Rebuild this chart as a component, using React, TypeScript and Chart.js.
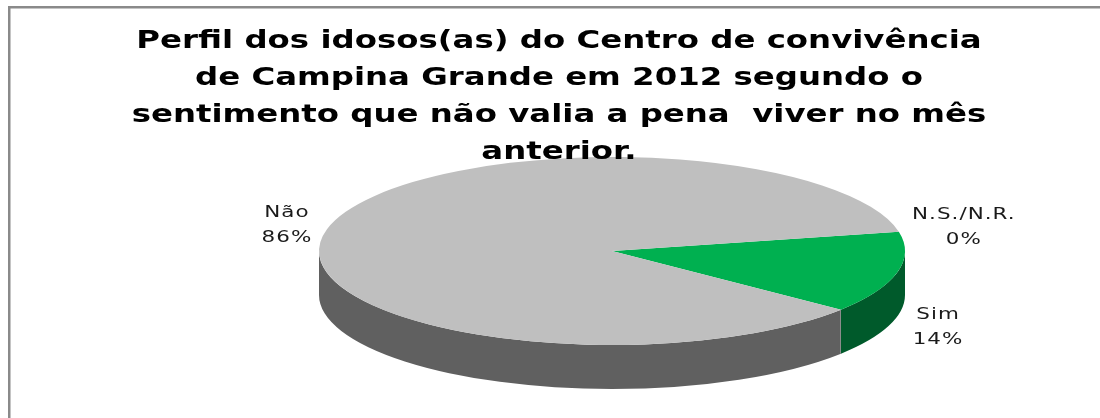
import React, { useEffect, useRef } from "react";
import { Chart, registerables } from "chart.js";

Chart.register(...registerables);

const categories = ["Sim", "Não", "N.S./N.R."];
const shares = [14, 86, 0];
const topColours = ["#00B050", "#BFBFBF", "#7F7F7F"];
const wallColours = ["#005A2B", "#606060", "#404040"];
const chartTitle = [
  "Perfil dos idosos(as) do Centro de convivência",
  "de Campina Grande em 2012 segundo o",
  "sentimento que não valia a pena  viver no mês",
  "anterior.",
];

// Projection of the flat pie onto a tilted disc.
const DISC_CENTRE = { x: 612, y: 251 };
const DISC_RADIUS = 293;
const DISC_SQUASH = 94 / 293;
const DISC_DEPTH = 44;

// Label offsets from the rim point of each slice.
const labelOffsets = [
  { dx: 41, dy: 54.5 },
  { dx: -40, dy: -4 },
  { dx: 65, dy: -5 },
];

const tiltTo = (ctx: CanvasRenderingContext2D, arc: any, drop: number) => {
  ctx.translate(DISC_CENTRE.x, DISC_CENTRE.y + drop);
  ctx.scale(1, DISC_SQUASH);
  ctx.translate(-arc.x, -arc.y);
};

const framePlugin = {
  id: "frame",
  beforeDraw(chart: Chart) {
    const { ctx, width, height } = chart;
    ctx.save();
    ctx.fillStyle = "#ffffff";
    ctx.fillRect(0, 0, width, height);
    ctx.strokeStyle = "#8A8A8A";
    ctx.lineWidth = 2.5;
    ctx.beginPath();
    ctx.moveTo(9.25, height);
    ctx.lineTo(9.25, 7.25);
    ctx.lineTo(width, 7.25);
    ctx.stroke();
    ctx.restore();
  },
};

const discPlugin = {
  id: "disc",
  beforeDatasetsDraw(chart: Chart) {
    const { ctx } = chart;
    const arcs = chart.getDatasetMeta(0).data as any[];
    // Side wall: the part of each slice's rim on the front half, swept downward.
    arcs.forEach((arc, i) => {
      const wrap = (a: number) => {
        let v = a % (2 * Math.PI);
        if (v < -Math.PI) v += 2 * Math.PI;
        return v;
      };
      const from = wrap(arc.startAngle);
      const sweep = arc.endAngle - arc.startAngle;
      const start = Math.max(from, 0);
      const end = Math.min(from + sweep, Math.PI);
      if (sweep <= 0 || end <= start) return;
      ctx.save();
      ctx.fillStyle = wallColours[i];
      ctx.beginPath();
      ctx.save();
      tiltTo(ctx, arc, 0);
      ctx.arc(arc.x, arc.y, arc.outerRadius, start, end);
      ctx.restore();
      ctx.save();
      tiltTo(ctx, arc, DISC_DEPTH);
      ctx.arc(arc.x, arc.y, arc.outerRadius, end, start, true);
      ctx.restore();
      ctx.closePath();
      ctx.fill();
      ctx.restore();
    });
    // Seam between the two walls where the slices meet at the front.
    const first = arcs[0];
    const seamX = Math.round(DISC_CENTRE.x + first.outerRadius * Math.cos(first.endAngle)) - 0.5;
    const seamY = DISC_CENTRE.y + first.outerRadius * Math.sin(first.endAngle) * DISC_SQUASH;
    ctx.save();
    ctx.strokeStyle = "#8C8C8C";
    ctx.lineWidth = 1;
    ctx.beginPath();
    ctx.moveTo(seamX, seamY);
    ctx.lineTo(seamX, seamY + DISC_DEPTH);
    ctx.stroke();
    ctx.restore();
    // The top face is drawn by the controller under this same tilt.
    ctx.save();
    tiltTo(ctx, first, 0);
  },
  afterDatasetsDraw(chart: Chart) {
    const { ctx, width } = chart;
    ctx.restore();
    const arcs = chart.getDatasetMeta(0).data as any[];
    const total = shares.reduce((a, b) => a + b, 0);

    // Title, set wide like the rest of the lettering.
    ctx.save();
    ctx.fillStyle = "#000000";
    ctx.font = "bold 25.5px 'DejaVu Sans'";
    ctx.textAlign = "center";
    ctx.textBaseline = "alphabetic";
    chartTitle.forEach((line, n) => {
      ctx.save();
      ctx.translate(width / 2 + 9, 48 + n * 37);
      ctx.scale(1.27, 1);
      ctx.fillText(line, 0, 0);
      ctx.restore();
    });
    ctx.restore();

    // Category and percentage beside each slice.
    ctx.save();
    ctx.fillStyle = "#1a1a1a";
    ctx.font = "16.5px 'DejaVu Sans'";
    (ctx as any).letterSpacing = "0.8px";
    ctx.textAlign = "center";
    ctx.textBaseline = "middle";
    arcs.forEach((arc, i) => {
      const mid = (arc.startAngle + arc.endAngle) / 2;
      const rimX = DISC_CENTRE.x + arc.outerRadius * Math.cos(mid);
      const rimY = DISC_CENTRE.y + arc.outerRadius * Math.sin(mid) * DISC_SQUASH;
      const x = rimX + labelOffsets[i].dx;
      const y = rimY + labelOffsets[i].dy;
      const lines = [categories[i], `${Math.round((shares[i] / total) * 100)}%`];
      lines.forEach((line, n) => {
        ctx.save();
        ctx.translate(x, y + (n === 0 ? -12.5 : 12.5));
        ctx.scale(1.3, 1);
        ctx.fillText(line, 0, 0);
        ctx.restore();
      });
    });
    ctx.restore();
  },
};

export default function App() {
  const canvasRef = useRef<HTMLCanvasElement>(null);

  useEffect(() => {
    if (!canvasRef.current) return;
    const chart = new Chart(canvasRef.current, {
      type: "pie",
      data: {
        labels: categories,
        datasets: [
          {
            data: shares,
            backgroundColor: topColours,
            borderWidth: 0,
            radius: DISC_RADIUS,
            clip: false,
          } as any,
        ],
      },
      options: {
        responsive: false,
        animation: false,
        rotation: 78.2,
        layout: { padding: 0 },
        plugins: {
          legend: { display: false },
          tooltip: { enabled: false },
          title: { display: false },
        },
      },
      plugins: [framePlugin, discPlugin],
    });
    return () => chart.destroy();
  }, []);

  return (
    <div style={{ position: "absolute", left: 0, top: 0, width: 1100, height: 418 }}>
      <canvas ref={canvasRef} width={1100} height={418} />
    </div>
  );
}
